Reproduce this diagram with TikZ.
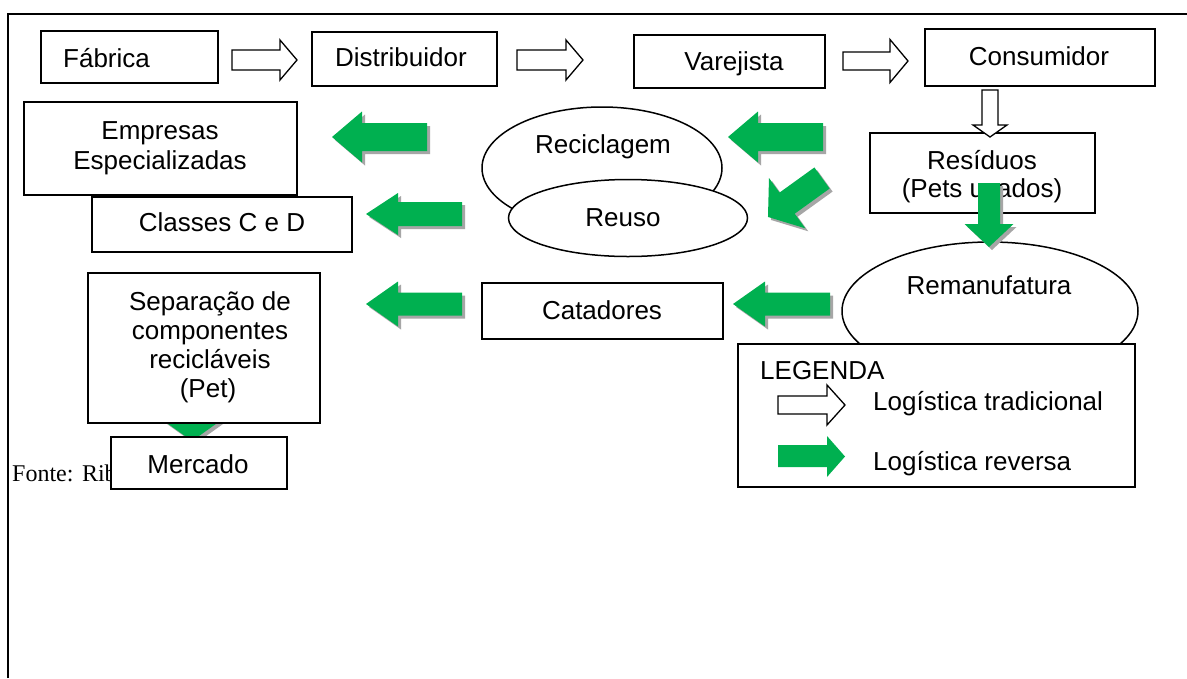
\documentclass[tikz,border=0pt]{standalone}
\usepackage{fontspec}
\setmainfont{Liberation Sans}
\newfontfamily\serifrm{Liberation Serif}
\usetikzlibrary{shapes.geometric}
\definecolor{ggreen}{HTML}{00B050}
\newcommand\rbox[5]{\node[box, anchor=north west, minimum width=#4-#2, minimum height=#5-#3] (#1) at (#2,#3) {};}
% green left arrow: tipx, y, basex, tailx, half shaft, half head
\newcommand\gleft[6]{%
  \fill[gshade, shift={(3,3)}] (#1,#2) -- (#3,#2-#6) -- (#3,#2-#5) -- (#4,#2-#5) -- (#4,#2+#5) -- (#3,#2+#5) -- (#3,#2+#6) -- cycle;
  \fill[gfill] (#1,#2) -- (#3,#2-#6) -- (#3,#2-#5) -- (#4,#2-#5) -- (#4,#2+#5) -- (#3,#2+#5) -- (#3,#2+#6) -- cycle;}
% green down arrow: cx, top, basey, tipy, half shaft, half head
\newcommand\gdown[6]{%
  \fill[gshade, shift={(3,3)}] (#1-#5,#2) -- (#1+#5,#2) -- (#1+#5,#3) -- (#1+#6,#3) -- (#1,#4) -- (#1-#6,#3) -- (#1-#5,#3) -- cycle;
  \fill[gfill] (#1-#5,#2) -- (#1+#5,#2) -- (#1+#5,#3) -- (#1+#6,#3) -- (#1,#4) -- (#1-#6,#3) -- (#1-#5,#3) -- cycle;}
% hollow right arrow: tailx, y, basex, tipx, half shaft, half head
\newcommand\hright[6]{%
  \draw[hollow] (#1,#2-#5) -- (#3,#2-#5) -- (#3,#2-#6) -- (#4,#2) -- (#3,#2+#6) -- (#3,#2+#5) -- (#1,#2+#5) -- cycle;}
\begin{document}
\begin{tikzpicture}[x=1pt,y=-1pt,
  box/.style={draw, line width=1.5pt, fill=white, inner sep=0pt, outer sep=0pt, rectangle},
  oval/.style={draw, line width=1.5pt, fill=white, ellipse, inner sep=0pt, outer sep=0pt},
  lbl/.style={inner sep=0pt, font=\fontsize{26}{29}\selectfont, anchor=base},
  lblw/.style={lbl, anchor=base west},
  hollow/.style={draw, line width=1.3pt, fill=white, line join=miter},
  gfill/.style={fill=ggreen},
  gshade/.style={fill=black!35},
]
\useasboundingbox (0,0) rectangle (1187,678);
\fill[white] (0,0) rectangle (1187,678);
% frame
\draw[line width=2.6pt] (8,678) -- (8,14) -- (1187,14);

% source text (partly hidden under the Mercado box)
\node[inner sep=0pt, anchor=base west, font=\serifrm\fontsize{24}{28}\selectfont] (fonte) at (12,481) {Fonte:\hspace{8.5pt}Ribeiro, 2005};

% hidden arrow Separacao -> Mercado
\gdown{192}{395}{421}{441}{12}{28}

% boxes
\rbox{fab}{41}{31}{218}{83}
\rbox{dist}{312}{32}{497}{86}
\rbox{varej}{634}{35}{825}{88}
\rbox{cons}{925}{29}{1155}{86}
\rbox{emp}{24}{102}{297}{195}
\rbox{cls}{92}{197}{352}{252}
\rbox{res}{870}{133}{1095}{213}
\rbox{cat}{482}{283}{723}{339}
\rbox{sep}{88}{273}{320}{423}
\rbox{merc}{111}{437}{287}{489}

% ellipses
\node[oval, minimum width=240, minimum height=122] (recic) at (602,168) {};
\node[oval, minimum width=239, minimum height=77] (reuso) at (628,218) {};
\node[oval, minimum width=296, minimum height=138] (reman) at (990,311) {};

% legend box
\rbox{leg}{738}{344}{1135}{487}

% texts
\node[lblw] (tfab) at (63,67) {Fábrica};
\node[lblw] (tdist) at (335,66) {Distribuidor};
\node[lbl] (tvarej) at (734,70) {Varejista};
\node[lbl] (tcons) at (1039,65) {Consumidor};
\node[lbl] (temp1) at (160,139) {Empresas};
\node[lbl] (temp2) at (160,169) {Especializadas};
\node[lbl] (tcls) at (222,231) {Classes C e D};
\node[lbl] (trecic) at (603,153) {Reciclagem};
\node[lbl] (treuso) at (623,226) {Reuso};
\node[lbl] (tres1) at (982,169) {Resíduos};
\node[lbl] (tres2) at (982,197) {(Pets usados)};
\node[lbl] (treman) at (989,294) {Remanufatura};
\node[lbl] (tcat) at (602,319) {Catadores};
\node[lbl] (tsep1) at (210,310) {Separação de};
\node[lbl] (tsep2) at (210,339) {componentes};
\node[lbl] (tsep3) at (210,368) {recicláveis};
\node[lbl] (tsep4) at (208,397) {(Pet)};
\node[lbl] (tmerc) at (198,473) {Mercado};
\node[lblw] (tleg) at (760,379) {LEGENDA};
\node[lblw] (tltrad) at (873,410) {Logística tradicional};
\node[lblw] (tlrev) at (873,470) {Logística reversa};

% hollow (traditional) arrows
\hright{232}{60}{280}{297}{10}{20}
\hright{517}{60}{566}{583}{10}{20}
\hright{843}{61}{890}{908}{9}{21.5}
\hright{778}{405}{827}{845}{9}{20}
\draw[hollow] (982,90) -- (998,90) -- (998,125) -- (1007,125) -- (990,137) -- (973,125) -- (982,125) -- cycle;

% green (reverse) arrows
\gleft{332}{137}{362}{427}{14}{25.5}
\gleft{366}{214}{398}{462}{12}{21}
\gleft{728}{137}{758}{823}{14}{25.5}
\gleft{366}{304}{398}{462}{11.5}{22.5}
\gleft{733}{304}{765}{830}{11.5}{22.5}
\gdown{989}{183}{224}{247}{11}{24.5}
% diagonal arrow Residuos -> Reuso
\begin{scope}[shift={(825,181)}, rotate=215.8]
  \fill[gshade] (0,-13) -- (43,-13) -- (43,-31) -- (66.6,0) -- (43,31) -- (43,13) -- (0,13) -- cycle;
\end{scope}
\begin{scope}[shift={(822,178)}, rotate=215.8]
  \fill[gfill] (0,-13) -- (43,-13) -- (43,-31) -- (66.6,0) -- (43,31) -- (43,13) -- (0,13) -- cycle;
\end{scope}
% legend green arrow
\fill[gfill] (778,445) -- (827,445) -- (827,436) -- (845,456.5) -- (827,477) -- (827,467) -- (778,467) -- cycle;
\end{tikzpicture}
\end{document}
